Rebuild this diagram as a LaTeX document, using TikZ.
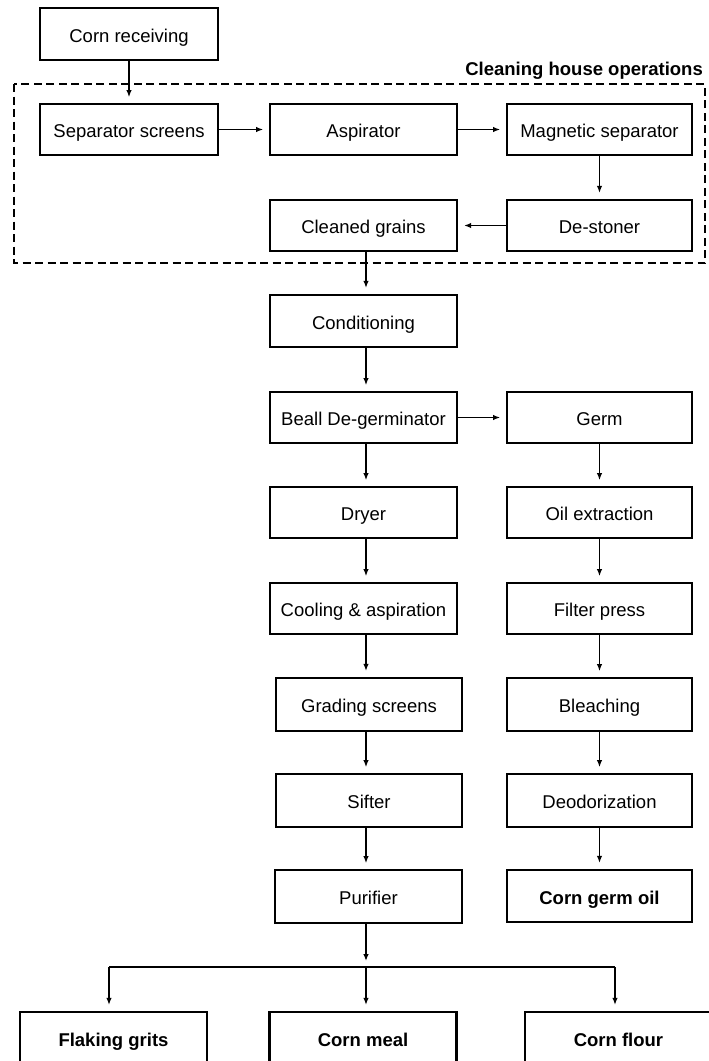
\documentclass[tikz,border=0pt]{standalone}
\usepackage{fontspec}
\setmainfont{Liberation Sans}
\usetikzlibrary{arrows.meta}
\begin{document}
\begin{tikzpicture}[x=1pt,y=-1pt,
  box/.style={draw,line width=1.8pt,minimum height=51pt,inner sep=0pt,text height=16pt,text depth=0pt,font=\fontsize{18.5}{22}\selectfont},
  wbox/.style={box,minimum width=187pt},
  heavy/.style={line width=2.3pt},
  bbox/.style={box,heavy,minimum width=187pt,minimum height=52pt,font=\fontsize{18.5}{22}\selectfont\bfseries},
  flow/.style={line width=1.3pt,-{Latex[length=7pt,width=5.5pt]},shorten >=6pt},
  plain/.style={line width=1.3pt}]
\useasboundingbox (0,0) rectangle (709,1061);
\clip (0,0) rectangle (709,1061);
% cleaning house frame
\draw[line width=1.9pt,dash pattern=on 8pt off 4.5pt] (14,84) rectangle (705,263);
\node[anchor=base east,inner sep=0pt,font=\fontsize{18.5}{22}\selectfont\bfseries] (lbl) at (703,75) {Cleaning house operations};
% nodes
\node[box,minimum width=178pt,minimum height=52pt] (recv) at (129,34) {Corn receiving};
\node[box,minimum width=178pt] (sep) at (129,129.5) {Separator screens};
\node[wbox] (asp) at (363.5,129.5) {Aspirator};
\node[box,minimum width=185pt] (mag) at (599.5,129.5) {Magnetic separator};
\node[wbox,heavy] (clean) at (363.5,225.5) {Cleaned grains};
\node[box,heavy,minimum width=185pt] (dest) at (599.5,225.5) {De-stoner};
\node[wbox,heavy,minimum height=52pt] (cond) at (363.5,321) {Conditioning};
\node[wbox] (beall) at (363.5,417.5) {Beall De-germinator};
\node[wbox] (dryer) at (363.5,512.5) {Dryer};
\node[wbox] (cool) at (363.5,608.5) {Cooling \& aspiration};
\node[box,heavy,minimum width=186pt,minimum height=53pt] (grad) at (369,704.5) {Grading screens};
\node[box,minimum width=186pt,minimum height=53pt] (sift) at (369,800.5) {Sifter};
\node[box,minimum width=187pt,minimum height=53pt] (pur) at (368.5,896.5) {Purifier};
\node[box,minimum width=185pt] (germ) at (599.5,417.5) {Germ};
\node[box,minimum width=185pt] (oil) at (599.5,512.5) {Oil extraction};
\node[box,minimum width=185pt] (filt) at (599.5,608.5) {Filter press};
\node[box,minimum width=185pt,minimum height=53pt] (blea) at (599.5,704.5) {Bleaching};
\node[box,minimum width=185pt,minimum height=53pt] (deo) at (599.5,800.5) {Deodorization};
\node[bbox,minimum width=185pt] (cgo) at (599.5,896) {Corn germ oil};
\node[bbox] (flak) at (113.5,1038) {Flaking grits};
\node[bbox] (meal) at (363,1038) {Corn meal};
\node[bbox] (flour) at (618.5,1038) {Corn flour};
% connectors
\coordinate (mx) at (366,0);
\draw[flow] (recv.south) -- (sep.north);
\draw[flow] (sep.east) -- (asp.west);
\draw[flow] (asp.east) -- (mag.west);
\draw[flow] (mag.south) -- (dest.north);
\draw[flow] (dest.west) -- (clean.east);
\draw[flow] (clean.south -| mx) -- (cond.north -| mx);
\draw[flow] (cond.south -| mx) -- (beall.north -| mx);
\draw[flow] (beall.east) -- (germ.west);
\draw[flow] (beall.south -| mx) -- (dryer.north -| mx);
\draw[flow] (dryer.south -| mx) -- (cool.north -| mx);
\draw[flow] (cool.south -| mx) -- (grad.north -| mx);
\draw[flow] (grad.south -| mx) -- (sift.north -| mx);
\draw[flow] (sift.south -| mx) -- (pur.north -| mx);
\draw[flow] (germ.south) -- (oil.north);
\draw[flow] (oil.south) -- (filt.north);
\draw[flow] (filt.south) -- (blea.north);
\draw[flow] (blea.south) -- (deo.north);
\draw[flow] (deo.south) -- (cgo.north);
% branch
\coordinate (br) at (366,967);
\coordinate (bl) at (109,967);
\coordinate (brr) at (615,967);
\draw[flow] (pur.south -| mx) -- (br);
\draw[plain] (bl) -- (brr);
\draw[flow] (bl) -- (bl |- flak.north);
\draw[flow] (br) -- (br |- meal.north);
\draw[flow] (brr) -- (brr |- flour.north);
\end{tikzpicture}
\end{document}
